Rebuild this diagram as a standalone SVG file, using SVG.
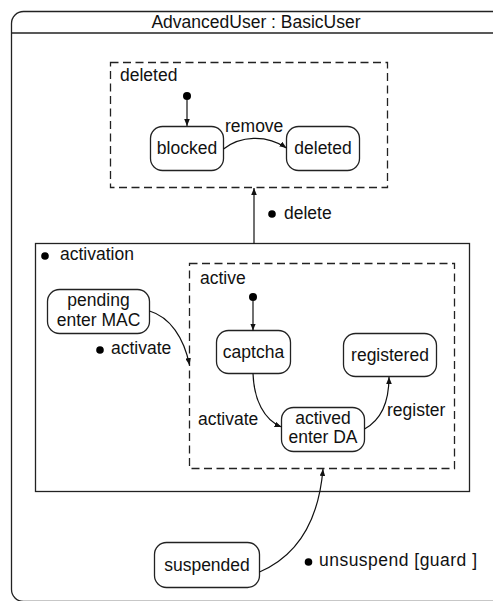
<svg xmlns="http://www.w3.org/2000/svg" width="493" height="601" viewBox="0 0 493 601">
  <style>
    text { font-family: "Liberation Sans", Arial, sans-serif; font-size: 17.5px; fill: #111; }
    .mid { text-anchor: middle; }
    .frame { fill: none; stroke: #222; stroke-width: 1.3; }
    .dash { fill: none; stroke: #222; stroke-width: 1.3; stroke-dasharray: 8 4.5; }
    .state { fill: #fff; stroke: #222; stroke-width: 1.3; }
    .edge { fill: none; stroke: #111; stroke-width: 1.2; marker-end: url(#arrow); }
    .dot { fill: #000; }
  </style>
  <defs>
    <marker id="arrow" viewBox="0 0 10 8" refX="10" refY="4" markerWidth="7" markerHeight="5.6" markerUnits="userSpaceOnUse" orient="auto">
      <path d="M0,0 L10,4 L0,8 Z" fill="#111"/>
    </marker>
  </defs>

  <!-- outer state machine frame -->
  <g id="machine">
    <rect class="frame" x="11.5" y="11.5" width="520" height="590" rx="12" ry="12"/>
    <line class="frame" x1="11.5" y1="33" x2="493" y2="33"/>
    <text class="mid" x="256" y="28">AdvancedUser : BasicUser</text>
  </g>

  <!-- composite state: deleted -->
  <g id="deleted-region">
    <rect class="dash" x="110.5" y="62.5" width="277" height="125"/>
    <text x="120" y="81">deleted</text>
    <circle class="dot" cx="187" cy="96" r="4"/>
  </g>
  <g id="blocked">
    <rect class="state" x="150.5" y="126.5" width="73" height="44" rx="12" ry="12"/>
    <text class="mid" x="187" y="154">blocked</text>
  </g>
  <g id="deleted">
    <rect class="state" x="286.5" y="126.5" width="73" height="44" rx="12" ry="12"/>
    <text class="mid" x="323" y="154">deleted</text>
  </g>

  <!-- composite state: activation -->
  <g id="activation">
    <rect class="frame" x="35.5" y="243.5" width="434" height="248"/>
    <circle class="dot" cx="45" cy="256" r="3.8"/>
    <text x="60" y="260">activation</text>
  </g>
  <g id="pending">
    <rect class="state" x="47.5" y="289.5" width="102" height="44" rx="12" ry="12"/>
    <text class="mid" x="98.5" y="306">pending</text>
    <text class="mid" x="98.5" y="326">enter MAC</text>
  </g>

  <!-- composite state: active -->
  <g id="active">
    <rect class="dash" x="189.5" y="263.5" width="265" height="205"/>
    <text x="200" y="284">active</text>
    <circle class="dot" cx="253" cy="297" r="4"/>
  </g>
  <g id="captcha">
    <rect class="state" x="216.5" y="330.5" width="74" height="43" rx="12" ry="12"/>
    <text class="mid" x="253.5" y="358">captcha</text>
  </g>
  <g id="registered">
    <rect class="state" x="343.5" y="333.5" width="93" height="43" rx="12" ry="12"/>
    <text class="mid" x="390" y="361">registered</text>
  </g>
  <g id="actived">
    <rect class="state" x="281.5" y="407.5" width="83" height="44" rx="12" ry="12"/>
    <text class="mid" x="323" y="424">actived</text>
    <text class="mid" x="323" y="443">enter DA</text>
  </g>

  <g id="suspended">
    <rect class="state" x="154.5" y="542.5" width="105" height="45" rx="12" ry="12"/>
    <text class="mid" x="207" y="571">suspended</text>
  </g>

  <!-- transitions -->
  <g id="connectors">
    <line class="edge" x1="187" y1="100" x2="187" y2="126"/>
    <path class="edge" d="M223.5,149 C240,136 266,134 286.5,148"/>
    <text x="225" y="132">remove</text>

    <line class="edge" x1="254" y1="243.5" x2="254" y2="188"/>
    <circle class="dot" cx="272" cy="214" r="3.8"/>
    <text x="284" y="219">delete</text>

    <path class="edge" d="M149.5,311 C170,317 184,338 189.5,365"/>
    <circle class="dot" cx="100" cy="350" r="3.8"/>
    <text x="111" y="354">activate</text>

    <line class="edge" x1="253" y1="301" x2="253" y2="330.5"/>
    <path class="edge" d="M253,373.5 C254,400 264,420 281.5,427"/>
    <text x="198" y="425">activate</text>

    <path class="edge" d="M364.5,429 C381,420 389,402 389,377"/>
    <text x="387" y="416">register</text>

    <path class="edge" d="M259.5,572 C292,558 318,528 323,469"/>
    <circle class="dot" cx="308.5" cy="562" r="3.8"/>
    <text x="319" y="566" textLength="158" lengthAdjust="spacing">unsuspend [guard ]</text>
  </g>
</svg>
